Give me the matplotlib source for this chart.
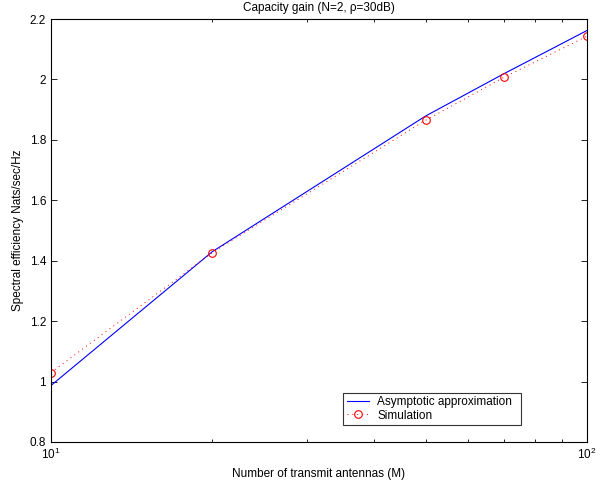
import matplotlib
matplotlib.use("Agg")
import matplotlib.pyplot as plt
from matplotlib.ticker import LogLocator, FixedLocator

plt.rcParams['font.family'] = ['Liberation Sans', 'DejaVu Sans']
plt.rcParams['mathtext.fontset'] = 'custom'
plt.rcParams['mathtext.rm'] = 'Liberation Sans'
plt.rcParams['mathtext.it'] = 'Liberation Sans'

M = [10, 20, 50, 70, 100]
asymptotic = [0.987, 1.430, 1.879, 2.019, 2.162]
simulation = [1.030, 1.427, 1.865, 2.007, 2.143]
yticks = [0.8, 1.0, 1.2, 1.4, 1.6, 1.8, 2.0, 2.2]
ytick_labels = ['0.8', '1', '1.2', '1.4', '1.6', '1.8', '2', '2.2']

FS = 8.5

fig = plt.figure(figsize=(6.06, 4.82), dpi=100)
ax = fig.add_axes([51/606, 1-442/482, 536/606, 423/482])

ax.plot(M, asymptotic, '-', color='#0000ff', lw=0.8, label='Asymptotic approximation')
ax.plot(M, simulation, linestyle=(0, (1, 4)), color='#ff0000', lw=0.7, marker='o',
        markersize=5.5, markerfacecolor='none', markeredgecolor='#ff0000',
        markeredgewidth=0.8, label='Simulation')

ax.set_xscale('log')
ax.set_xlim(10, 100)
ax.set_ylim(0.8, 2.2)
ax.set_yticks(yticks)
ax.set_yticklabels(ytick_labels)
ax.xaxis.set_major_locator(FixedLocator([10, 100]))
ax.set_xticklabels(['$10^1$', '$10^2$'])
ax.xaxis.set_minor_locator(LogLocator(base=10, subs=range(2, 10)))
ax.xaxis.set_minor_formatter(plt.NullFormatter())

ax.tick_params(which='both', direction='in', top=True, right=True, labelsize=FS)
ax.tick_params(which='major', length=4, width=0.6)
ax.tick_params(which='minor', length=2.5, width=0.6)
for s in ax.spines.values():
    s.set_linewidth(0.8)

ax.set_xlabel('Number of transmit antennas (M)', fontsize=FS)
ax.set_ylabel('Spectral efficiency Nats/sec/Hz', fontsize=FS)
ax.set_title('Capacity gain (N=2, ρ=30dB)', fontsize=FS, pad=6)

leg = ax.legend(loc='lower left', bbox_to_anchor=(0.545, 0.04, 0.332, 0.073),
                mode='expand', fontsize=FS, frameon=True, fancybox=False,
                borderpad=0.3, labelspacing=0.1, handlelength=1.9, handletextpad=0.7,
                borderaxespad=0)
leg.get_frame().set_edgecolor('black')
leg.get_frame().set_linewidth(0.8)

fig.savefig('out.png', dpi=100)
